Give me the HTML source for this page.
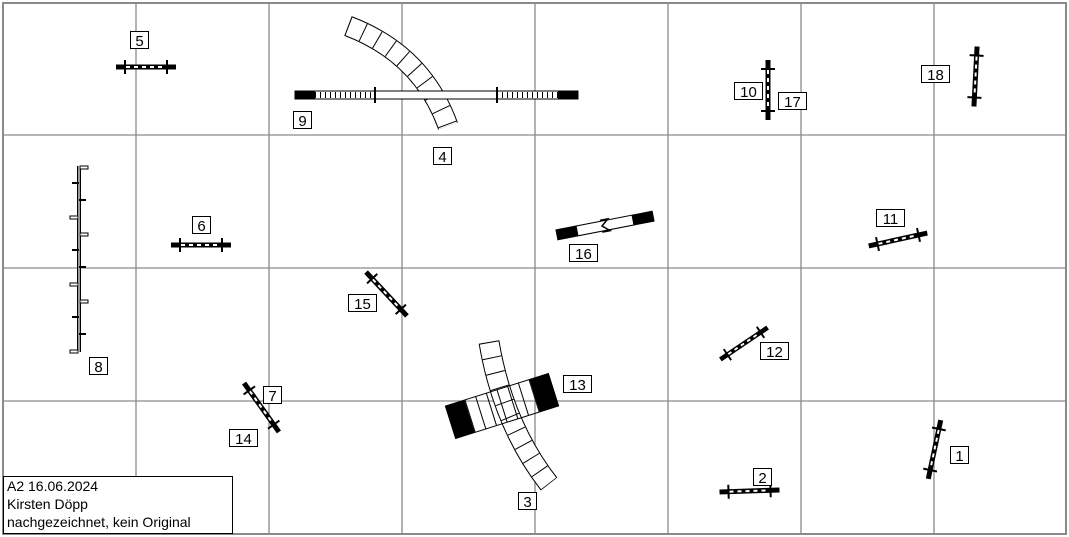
<!DOCTYPE html>
<html><head><meta charset="utf-8"><style>
html,body{margin:0;padding:0;background:#fff}
svg{display:block}
text{font-family:"Liberation Sans",sans-serif;font-size:15px;fill:#000}
</style></head><body>
<svg width="1069" height="537" viewBox="0 0 1069 537" xmlns="http://www.w3.org/2000/svg">
<defs>
<g id="jump">
<line x1="-30" y1="0" x2="30" y2="0" stroke="#000" stroke-width="5"/>
<line x1="-20" y1="0" x2="20" y2="0" stroke="#fff" stroke-width="2" stroke-dasharray="4 4"/>
<line x1="-21" y1="-7" x2="-21" y2="7" stroke="#000" stroke-width="2"/>
<line x1="21" y1="-7" x2="21" y2="7" stroke="#000" stroke-width="2"/>
</g>
</defs>
<rect x="0" y="0" width="1069" height="537" fill="#fff"/>
<g stroke="#8a8a8a" stroke-width="1.3">
<line x1="136" y1="3" x2="136" y2="534"/><line x1="269" y1="3" x2="269" y2="534"/>
<line x1="402" y1="3" x2="402" y2="534"/><line x1="535" y1="3" x2="535" y2="534"/>
<line x1="668" y1="3" x2="668" y2="534"/><line x1="801" y1="3" x2="801" y2="534"/>
<line x1="934" y1="3" x2="934" y2="534"/>
<line x1="3" y1="135" x2="1067" y2="135"/><line x1="3" y1="268" x2="1067" y2="268"/>
<line x1="3" y1="401" x2="1067" y2="401"/>
</g>
<rect x="3" y="3" width="1063" height="531" fill="none" stroke="#8a8a8a" stroke-width="2"/>

<!-- tunnel 4 -->
<path d="M348,26 Q422,54 448,126" fill="none" stroke="#000" stroke-width="21"/>
<path d="M348,26 Q422,54 448,126" fill="none" stroke="#fff" stroke-width="19"/>
<path d="M348,26 Q422,54 448,126" fill="none" stroke="#000" stroke-width="19" stroke-dasharray="1 15"/>
<!-- dogwalk 9 -->
<rect x="295" y="91" width="283" height="8" fill="#fff" stroke="#000" stroke-width="1"/>
<rect x="295" y="91" width="20" height="8" fill="#000"/>
<rect x="558" y="91" width="20" height="8" fill="#000"/>
<line x1="315" y1="95" x2="375" y2="95" stroke="#000" stroke-width="6" stroke-dasharray="1 4"/>
<line x1="497" y1="95" x2="558" y2="95" stroke="#000" stroke-width="6" stroke-dasharray="1 4"/>
<line x1="375" y1="87" x2="375" y2="103" stroke="#000" stroke-width="2"/>
<line x1="497" y1="87" x2="497" y2="103" stroke="#000" stroke-width="2"/>

<!-- tunnel 3 -->
<path d="M489,342 Q503,425 549,484" fill="none" stroke="#000" stroke-width="21"/>
<path d="M489,342 Q503,425 549,484" fill="none" stroke="#fff" stroke-width="19"/>
<path d="M489,342 Q503,425 549,484" fill="none" stroke="#000" stroke-width="19" stroke-dasharray="1 14.5"/>
<!-- seesaw 13 -->
<g transform="translate(502,406) rotate(-17.5)">
<rect x="-54" y="-17" width="108" height="34" fill="none" stroke="#000" stroke-width="1"/>
<rect x="-54" y="-17" width="20" height="34" fill="#000"/>
<rect x="34" y="-17" width="20" height="34" fill="#000"/>
<line x1="-34" y1="0" x2="34" y2="0" stroke="#000" stroke-width="34" stroke-dasharray="1 10.2"/>
</g>

<!-- tire 16 -->
<g transform="translate(605,225.5) rotate(-11)">
<rect x="-49" y="-5" width="98" height="10" fill="#fff" stroke="#000"/>
<rect x="-49" y="-5" width="21" height="10" fill="#000"/>
<rect x="28" y="-5" width="21" height="10" fill="#000"/>
<path d="M-4,-6 L4,-6 L-3,0 L4,6 L-4,6" fill="none" stroke="#000" stroke-width="1.5"/>
</g>

<!-- weave 8 -->
<g stroke="#000">
<line x1="79" y1="166" x2="79" y2="352" stroke-width="4"/>
<line x1="79" y1="166" x2="79" y2="352" stroke="#fff" stroke-width="1.2"/>
<g stroke-width="2">
<line x1="79" y1="183" x2="72" y2="183"/><line x1="79" y1="200" x2="86" y2="200"/>
<line x1="79" y1="250" x2="72" y2="250"/><line x1="79" y1="267" x2="86" y2="267"/>
<line x1="79" y1="317" x2="72" y2="317"/><line x1="79" y1="334" x2="86" y2="334"/>
</g>
<g fill="#fff" stroke-width="1">
<rect x="80" y="166" width="8" height="3"/><rect x="70" y="216" width="8" height="3"/>
<rect x="80" y="233" width="8" height="3"/><rect x="70" y="283" width="8" height="3"/>
<rect x="80" y="300" width="8" height="3"/><rect x="70" y="350" width="8" height="3"/>
</g>
</g>

<!-- jumps -->
<use href="#jump" transform="translate(146,67)"/>
<use href="#jump" transform="translate(201,245)"/>
<use href="#jump" transform="translate(768,90) rotate(90)"/>
<use href="#jump" transform="translate(975.5,76.5) rotate(93)"/>
<use href="#jump" transform="translate(898,239.5) rotate(-12.5)"/>
<use href="#jump" transform="translate(744,343.5) rotate(-34) scale(0.95)"/>
<use href="#jump" transform="translate(386.5,294) rotate(47)"/>
<use href="#jump" transform="translate(261.5,407.5) rotate(54.5)"/>
<use href="#jump" transform="translate(934.5,449.5) rotate(102)"/>
<use href="#jump" transform="translate(749.5,491) rotate(-2)"/>

<!-- labels -->
<g fill="#fff" stroke="#000" stroke-width="1">
<rect x="130.5" y="31.5" width="18" height="17"/>
<rect x="293.5" y="111.5" width="18" height="17"/>
<rect x="433.5" y="147.5" width="18" height="17"/>
<rect x="192.5" y="216.5" width="18" height="17"/>
<rect x="89.5" y="357.5" width="18" height="17"/>
<rect x="348.5" y="294.5" width="28" height="17"/>
<rect x="263.5" y="386.5" width="18" height="17"/>
<rect x="229.5" y="429.5" width="28" height="17"/>
<rect x="569.5" y="244.5" width="28" height="17"/>
<rect x="563.5" y="375.5" width="28" height="17"/>
<rect x="518.5" y="492.5" width="18" height="17"/>
<rect x="734.5" y="82.5" width="28" height="17"/>
<rect x="778.5" y="92.5" width="28" height="17"/>
<rect x="921.5" y="65.5" width="28" height="17"/>
<rect x="876.5" y="209.5" width="28" height="17"/>
<rect x="760.5" y="342.5" width="28" height="17"/>
<rect x="753.5" y="468.5" width="18" height="17"/>
<rect x="950.5" y="446.5" width="18" height="17"/>
</g>
<g text-anchor="middle">
<text x="139.5" y="46">5</text>
<text x="302.5" y="126">9</text>
<text x="442.5" y="162">4</text>
<text x="201.5" y="231">6</text>
<text x="98.5" y="372">8</text>
<text x="362.5" y="309">15</text>
<text x="272.5" y="401">7</text>
<text x="243.5" y="444">14</text>
<text x="583.5" y="259">16</text>
<text x="577.5" y="390">13</text>
<text x="527.5" y="507">3</text>
<text x="748.5" y="97">10</text>
<text x="792.5" y="107">17</text>
<text x="935.5" y="80">18</text>
<text x="890.5" y="224">11</text>
<text x="774.5" y="357">12</text>
<text x="762.5" y="483">2</text>
<text x="959.5" y="461">1</text>
</g>

<!-- info box -->
<rect x="3.5" y="476.5" width="229" height="57" fill="#fff" stroke="#000"/>
<text x="7" y="491" style="font-size:14px">A2 16.06.2024</text>
<text x="7" y="509" style="font-size:14px">Kirsten Döpp</text>
<text x="7" y="527" style="font-size:14px">nachgezeichnet, kein Original</text>
</svg>
</body></html>
